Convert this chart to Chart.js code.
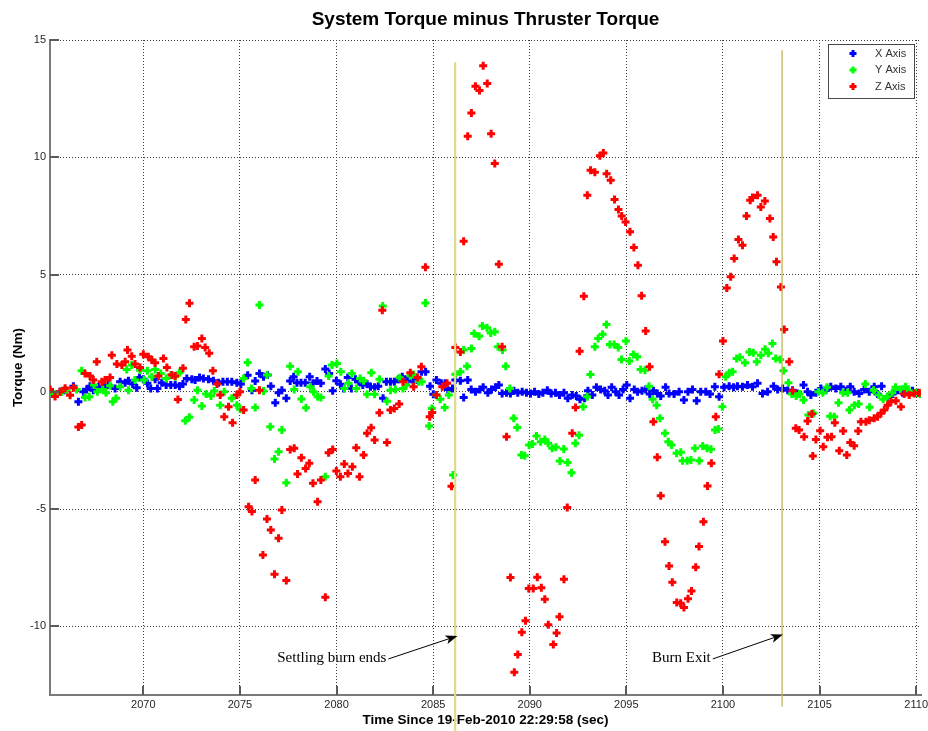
<!DOCTYPE html>
<html>
<head>
<meta charset="utf-8">
<title>System Torque minus Thruster Torque</title>
<script src="https://cdn.jsdelivr.net/npm/chart.js@4.4.1/dist/chart.umd.min.js"></script>
<style>
  html, body { margin: 0; padding: 0; background: #fff; }
  #wrap { width: 928px; height: 731px; }
</style>
</head>
<body>
<div id="wrap"><canvas id="torqueChart" width="928" height="731"></canvas></div>
<script>
// [time (s), torque (Nm)] samples for each body axis
const xAxisSamples = [
  [2065.17, 0.07], [2065.43, -0.1], [2065.69, 0], [2065.95, 0.07], [2066.38, 0.24], [2066.64, -0.43],
  [2066.9, 0], [2067.07, 0.1], [2067.24, 0.24], [2067.41, 0.07], [2067.67, 0.21], [2067.93, 0.19],
  [2068.19, 0.29], [2068.54, 0.14], [2068.8, 0.43], [2069.06, 0.38], [2069.23, 0.47], [2069.45, 0.33],
  [2069.66, 0.17], [2069.8, 0.61], [2070.0, 0.53], [2070.21, 0.36], [2070.38, 0.14], [2070.61, 0.53],
  [2070.73, 0.14], [2070.95, 0.38], [2071.18, 0.29], [2071.42, 0.29], [2071.65, 0.29], [2071.87, 0.24],
  [2072.05, 0.33], [2072.25, 0.57], [2072.51, 0.53], [2072.68, 0.5], [2072.91, 0.61], [2073.11, 0.57],
  [2073.37, 0.53], [2073.63, 0.47], [2073.89, 0.38], [2074.12, 0.43], [2074.35, 0.43], [2074.58, 0.43],
  [2074.84, 0.38], [2075.05, 0.33], [2075.4, 0.7], [2075.62, 0.07], [2075.79, 0.46], [2076.01, 0.78],
  [2076.22, 0.64], [2076.43, 0.71], [2076.6, 0.24], [2076.83, -0.47], [2077.0, -0.04], [2077.17, 0.07],
  [2077.4, -0.28], [2077.6, 0.46], [2077.78, 0.64], [2077.95, 0.38], [2078.16, 0.38], [2078.38, 0.38],
  [2078.61, 0.64], [2078.78, 0.36], [2078.99, 0.46], [2079.19, 0.36], [2079.42, 0.97], [2079.62, 0.78],
  [2079.8, 0.04], [2079.99, 0.47], [2080.2, 0.32], [2080.37, 0.14], [2080.58, 0.61], [2080.77, 0.14],
  [2080.98, 0.53], [2081.15, 0.43], [2081.36, 0.29], [2081.58, 0.33], [2081.76, 0.21], [2081.97, 0.19],
  [2082.16, 0.24], [2082.41, -0.28], [2082.58, 0.43], [2082.79, 0.43], [2082.99, 0.43], [2083.22, 0.53],
  [2083.4, 0.64], [2083.66, 0.5], [2083.97, 0.43], [2084.18, 0.5], [2084.4, 0.85], [2084.61, 0.85],
  [2084.84, 0.24], [2085.01, -0.11], [2085.17, 0.5], [2085.42, 0.36], [2085.62, 0.36], [2085.76, 0.1],
  [2086.0, 0.14], [2086.15, 0.5], [2086.41, 0.47], [2086.58, -0.24], [2086.79, 0.5], [2086.97, 0.1],
  [2087.19, 0], [2087.42, 0.1], [2087.59, 0.19], [2087.83, -0.04], [2088.02, 0.1], [2088.23, 0.19],
  [2088.4, 0.29], [2088.57, -0.07], [2088.8, -0.04], [2089.0, -0.07], [2089.18, 0.04], [2089.38, -0.04],
  [2089.61, 0], [2089.83, -0.04], [2090.04, -0.07], [2090.25, 0], [2090.47, -0.1], [2090.68, -0.04],
  [2090.91, 0.07], [2091.11, -0.07], [2091.33, -0.04], [2091.54, -0.14], [2091.77, -0.04], [2091.97, -0.28],
  [2092.2, -0.14], [2092.41, -0.18], [2092.6, -0.32], [2092.84, -0.28], [2093.01, 0.04], [2093.24, -0.14],
  [2093.45, 0.19], [2093.67, 0.1], [2093.88, 0.04], [2094.05, -0.14], [2094.24, 0.19], [2094.45, 0],
  [2094.62, -0.14], [2094.83, 0.1], [2095.02, 0.29], [2095.19, -0.28], [2095.41, 0.1], [2095.58, 0],
  [2095.81, 0.04], [2096.0, 0.1], [2096.21, -0.1], [2096.4, 0.04], [2096.6, -0.07], [2096.78, -0.18],
  [2097.03, 0.19], [2097.21, -0.07], [2097.47, -0.1], [2097.73, 0], [2097.98, -0.35], [2098.19, 0],
  [2098.42, 0.1], [2098.64, -0.38], [2098.85, 0], [2099.11, 0], [2099.33, -0.1], [2099.58, 0.21],
  [2099.8, -0.21], [2100.06, 0.19], [2100.32, 0.24], [2100.55, 0.19], [2100.75, 0.24], [2101.01, 0.21],
  [2101.27, 0.29], [2101.53, 0.21], [2101.79, 0.36], [2102.05, -0.07], [2102.31, 0], [2102.62, 0.24],
  [2102.83, 0.1], [2103.09, 0.14], [2103.35, 0.07], [2103.6, 0.07], [2103.86, -0.07], [2104.17, 0.29],
  [2104.38, 0], [2104.55, -0.14], [2104.81, -0.04], [2105.07, 0.14], [2105.33, 0.07], [2105.58, 0.21],
  [2105.84, 0.14], [2106.1, 0.21], [2106.36, 0.04], [2106.59, 0.21], [2106.79, 0], [2107.05, -0.07],
  [2107.31, 0.1], [2107.57, 0], [2107.83, 0.21], [2108.0, -0.1], [2108.21, 0.24], [2108.52, -0.21],
  [2108.78, -0.1], [2109.04, 0.07], [2109.29, -0.04], [2109.55, 0], [2109.81, 0.04], [2110.06, -0.04]
];

const yAxisSamples = [
  [2065.17, 0], [2065.43, -0.1], [2065.77, 0], [2066.03, 0.07], [2066.55, 0.1], [2066.81, 0.9],
  [2066.98, -0.24], [2067.2, -0.21], [2067.45, 0.29], [2067.62, 0], [2067.9, 0.1], [2068.07, -0.04],
  [2068.28, 0.26], [2068.42, -0.43], [2068.59, -0.28], [2068.8, 0.21], [2069.14, 0.95], [2069.23, 0.07],
  [2069.4, 1.14], [2069.57, 0.5], [2069.83, 0.92], [2070.04, 0.5], [2070.21, 0.9], [2070.44, 0.64],
  [2070.61, 0.95], [2070.9, 0.78], [2071.18, 0.57], [2071.42, 0.71], [2071.65, 0.64], [2071.87, 0.81],
  [2072.17, -1.24], [2072.38, -1.09], [2072.63, -0.35], [2072.8, 0.07], [2073.03, -0.61], [2073.25, -0.1],
  [2073.5, -0.18], [2073.67, 0.03], [2073.98, -0.57], [2074.19, 0], [2074.58, -0.28], [2074.84, -0.57],
  [2075.01, -0.75], [2075.19, 0.57], [2075.4, 1.25], [2075.59, 0.14], [2075.79, -0.67], [2076.01, 3.7],
  [2076.22, 0.03], [2076.4, 0.71], [2076.57, -1.49], [2076.79, -2.87], [2077.0, -2.56], [2077.17, -1.63],
  [2077.4, -3.88], [2077.6, 1.09], [2077.81, 0.1], [2078.0, 0.85], [2078.18, -0.31], [2078.42, -0.68],
  [2078.64, 0.21], [2078.81, 0], [2079.02, -0.21], [2079.19, -0.24], [2079.42, -3.62], [2079.59, 0.67],
  [2079.76, 1.14], [2080.02, 1.21], [2080.22, 0.85], [2080.41, 0.14], [2080.62, 0.36], [2080.79, 0.78],
  [2081.02, 0.14], [2081.22, 0.57], [2081.4, 0.47], [2081.58, -0.11], [2081.8, 0.81], [2081.97, -0.11],
  [2082.22, 0.53], [2082.39, 3.66], [2082.61, -0.4], [2082.79, 0.07], [2083.04, 0.1], [2083.27, 0.6],
  [2083.44, 0.14], [2083.61, 0.29], [2083.82, 0.68], [2083.99, 0.74], [2084.25, 0.43], [2084.42, 0.43],
  [2084.6, 3.79], [2084.79, -1.46], [2084.93, -0.71], [2085.17, -0.14], [2085.37, -0.32], [2085.6, -0.67],
  [2085.81, -0.14], [2086.03, -3.55], [2086.15, 0.75], [2086.41, 0.85], [2086.58, 1.78], [2086.75, 1.09],
  [2086.98, 1.85], [2087.12, 2.49], [2087.38, 2.37], [2087.55, 2.8], [2087.79, 2.73], [2087.98, 2.51],
  [2088.19, 2.56], [2088.36, 1.92], [2088.59, 1.78], [2088.76, 1.09], [2088.97, 0.14], [2089.17, -1.13],
  [2089.35, -1.52], [2089.57, -2.7], [2089.74, -2.73], [2089.97, -2.27], [2090.14, -2.23], [2090.35, -1.89],
  [2090.57, -2.13], [2090.78, -2.03], [2090.95, -2.2], [2091.16, -2.41], [2091.35, -2.37], [2091.56, -2.95],
  [2091.76, -2.44], [2091.96, -3.02], [2092.16, -3.45], [2092.36, -2.2], [2092.55, -1.85], [2092.76, -0.64],
  [2092.97, -0.21], [2093.14, 0.74], [2093.37, 1.92], [2093.54, 2.27], [2093.77, 2.45], [2093.97, 2.87],
  [2094.15, 2.02], [2094.37, 2.02], [2094.58, 1.89], [2094.75, 1.38], [2094.98, 2.16], [2095.15, 1.31],
  [2095.36, 1.59], [2095.56, 1.49], [2095.74, 0.95], [2095.96, 0.92], [2096.17, 0.24], [2096.36, -0.32],
  [2096.57, -0.57], [2096.74, -1.13], [2097.0, -1.77], [2097.17, -2.13], [2097.34, -2.27], [2097.6, -2.62],
  [2097.82, -2.58], [2097.91, -2.94], [2098.15, -2.94], [2098.34, -2.91], [2098.55, -2.41], [2098.77, -2.94],
  [2098.95, -2.31], [2099.18, -2.41], [2099.38, -2.45], [2099.59, -1.63], [2099.76, -1.59], [2099.97, -0.64],
  [2100.14, 0.64], [2100.33, 0.81], [2100.5, 0.85], [2100.71, 1.42], [2100.88, 1.47], [2101.14, 1.24],
  [2101.37, 1.7], [2101.57, 1.66], [2101.75, 1.28], [2101.96, 1.56], [2102.18, 1.81], [2102.35, 1.64],
  [2102.56, 2.06], [2102.73, 1.42], [2102.96, 1.38], [2103.13, 0.9], [2103.39, 0.38], [2103.56, -0.1],
  [2103.79, -0.18], [2103.96, -0.1], [2104.17, -0.35], [2104.42, -0.99], [2104.68, -0.92], [2104.94, 0],
  [2105.17, -0.04], [2105.38, 0.19], [2105.55, -1.04], [2105.76, -1.07], [2105.98, -0.47], [2106.21, -0.04],
  [2106.45, -0.04], [2106.55, -0.78], [2106.8, -0.57], [2107.02, -0.52], [2107.37, 0.33], [2107.59, -0.66],
  [2107.8, 0.07], [2108.06, -0.14], [2108.29, -0.32], [2108.5, -0.21], [2108.76, -0.04], [2108.93, 0.19],
  [2109.19, 0.1], [2109.45, 0.21], [2109.62, 0.04], [2109.97, -0.04], [2110.2, -0.1]
];

const zAxisSamples = [
  [2065.17, 0.1], [2065.43, -0.2], [2065.69, 0], [2065.95, 0.15], [2066.21, -0.15], [2066.38, 0.17],
  [2066.64, -1.5], [2066.81, -1.42], [2066.98, 0.78], [2067.24, 0.67], [2067.41, 0.5], [2067.59, 1.28],
  [2067.85, 0.43], [2068.02, 0.5], [2068.28, 0.61], [2068.37, 1.56], [2068.63, 1.18], [2068.89, 1.14],
  [2069.06, 1.28], [2069.18, 1.78], [2069.4, 1.52], [2069.57, 1.18], [2069.83, 1.04], [2070.0, 1.6],
  [2070.26, 1.49], [2070.44, 1.35], [2070.61, 1.24], [2070.78, 0.67], [2071.04, 1.42], [2071.22, 1.04],
  [2071.48, 0.71], [2071.65, 0.67], [2071.79, -0.33], [2072.05, 1.0], [2072.2, 3.08], [2072.39, 3.77],
  [2072.63, 1.92], [2072.8, 1.95], [2073.03, 2.27], [2073.2, 1.89], [2073.41, 1.64], [2073.6, 0.9],
  [2073.81, 0.33], [2073.98, -0.14], [2074.19, -1.06], [2074.41, -0.64], [2074.62, -1.32], [2074.84, -0.14],
  [2075.0, 0], [2075.19, -0.78], [2075.45, -4.9], [2075.62, -5.11], [2075.79, -3.76], [2076.01, 0.07],
  [2076.19, -6.96], [2076.4, -5.42], [2076.6, -5.89], [2076.79, -7.78], [2077.0, -6.25], [2077.17, -5.04],
  [2077.4, -8.05], [2077.6, -2.46], [2077.81, -2.41], [2077.98, -3.51], [2078.18, -2.81], [2078.4, -3.27],
  [2078.59, -3.05], [2078.78, -3.9], [2079.02, -4.69], [2079.19, -3.76], [2079.42, -8.76], [2079.59, -2.6],
  [2079.8, -2.46], [2079.99, -3.38], [2080.2, -3.62], [2080.4, -3.08], [2080.59, -3.48], [2080.82, -3.2],
  [2081.02, -2.39], [2081.19, -3.62], [2081.4, -2.7], [2081.58, -1.77], [2081.79, -1.53], [2081.97, -2.06],
  [2082.22, -0.89], [2082.37, 3.48], [2082.61, -2.16], [2082.79, -0.78], [2082.99, -0.71], [2083.24, -0.52],
  [2083.44, 0.43], [2083.82, 0.81], [2083.99, 0.21], [2084.2, 0.61], [2084.39, 1.07], [2084.6, 5.31],
  [2084.82, -1.07], [2084.95, -0.88], [2085.17, -0.14], [2085.47, 0.21], [2085.72, 0.36], [2085.95, -4.03],
  [2086.15, 1.89], [2086.41, 1.7], [2086.58, 6.42], [2086.79, 10.9], [2086.98, 11.89], [2087.19, 13.03],
  [2087.4, 12.85], [2087.59, 13.9], [2087.8, 13.14], [2088.0, 11.0], [2088.19, 9.73], [2088.4, 5.44],
  [2088.57, 1.92], [2088.8, -1.92], [2089.0, -7.92], [2089.2, -11.96], [2089.38, -11.2], [2089.59, -10.25],
  [2089.78, -9.76], [2089.95, -8.39], [2090.18, -8.39], [2090.39, -7.91], [2090.6, -8.36], [2090.78, -8.85],
  [2090.96, -9.93], [2091.22, -10.78], [2091.39, -10.29], [2091.54, -9.59], [2091.77, -7.99], [2091.94, -4.93],
  [2092.2, -1.77], [2092.37, -0.67], [2092.58, 1.73], [2092.8, 4.07], [2092.98, 8.38], [2093.15, 9.45],
  [2093.37, 9.36], [2093.63, 10.06], [2093.81, 10.18], [2093.98, 9.3], [2094.19, 9.02], [2094.39, 8.2],
  [2094.59, 7.77], [2094.76, 7.5], [2094.96, 7.24], [2095.19, 6.82], [2095.39, 6.15], [2095.6, 5.4],
  [2095.79, 4.09], [2096.0, 2.59], [2096.2, 1.07], [2096.4, -1.28], [2096.6, -2.79], [2096.78, -4.43],
  [2097.0, -6.39], [2097.21, -7.43], [2097.38, -8.12], [2097.61, -8.99], [2097.81, -9.02], [2097.98, -9.2],
  [2098.19, -8.83], [2098.37, -8.49], [2098.59, -7.48], [2098.76, -6.6], [2098.99, -5.54], [2099.2, -4.02],
  [2099.4, -3.05], [2099.63, -1.07], [2099.8, 0.75], [2100.0, 2.17], [2100.2, 4.43], [2100.4, 4.9],
  [2100.58, 5.68], [2100.8, 6.49], [2101.01, 6.25], [2101.22, 7.5], [2101.41, 8.17], [2101.53, 8.28],
  [2101.79, 8.38], [2101.96, 7.88], [2102.17, 8.13], [2102.43, 7.39], [2102.6, 6.6], [2102.77, 5.54],
  [2103.0, 4.47], [2103.17, 2.66], [2103.43, 1.28], [2103.6, 0.04], [2103.77, -1.56], [2103.94, -1.63],
  [2104.2, -1.92], [2104.38, -1.25], [2104.6, -0.95], [2104.65, -2.74], [2104.81, -2.03], [2105.03, -1.66],
  [2105.19, -2.34], [2105.41, -1.94], [2105.62, -1.92], [2105.79, -1.32], [2106.02, -2.51], [2106.22, -1.67],
  [2106.41, -2.7], [2106.59, -2.16], [2106.79, -2.3], [2107.0, -1.67], [2107.14, -1.28], [2107.4, -1.28],
  [2107.57, -1.21], [2107.83, -1.13], [2108.0, -1.07], [2108.18, -0.92], [2108.35, -0.78], [2108.52, -0.57],
  [2108.69, -0.43], [2108.95, -0.38], [2109.21, -0.64], [2109.38, -0.1], [2109.64, -0.14], [2109.9, -0.07],
  [2110.16, -0.04]
];

const seriesNames = ['X Axis', 'Y Axis', 'Z Axis'];

// burn events: time, top and bottom of the marker line (Nm)
const eventTimes = [2086.14, 2103.06];
const eventTops = [14.05, 14.56];
const eventBottoms = [-14.46, -13.43];

// callouts: label, where the text ends, where the arrow points
const calloutLabels = ['Settling burn ends', 'Burn Exit'];
const calloutText = [[2082.58, -11.35], [2099.37, -11.35]];
const calloutTips = [[2086.26, -10.41], [2103.1, -10.35]];

const xTicks = [2070, 2075, 2080, 2085, 2090, 2095, 2100, 2105, 2110];
const yTicks = [-10, -5, 0, 5, 10, 15];
const xRange = [2065.17, 2110.25];
const yRange = [-12.93, 15];

const sansFont = 'Arial, "Liberation Sans", Helvetica, sans-serif';
const serifFont = '"Times New Roman", "Liberation Serif", serif';
const markerColors = ['#0000ff', '#00ff00', '#ff0000'];

const toPoints = (pairs) => pairs.map(([t, v]) => ({ x: t, y: v }));

function markerSet(i, pairs) {
  return {
    label: seriesNames[i],
    data: toPoints(pairs),
    pointStyle: 'cross',
    pointRadius: 4,
    pointBorderWidth: 3,
    pointBorderColor: markerColors[i],
    pointBackgroundColor: markerColors[i],
    borderColor: markerColors[i],
    backgroundColor: markerColors[i],
    order: 3 - i
  };
}

const eventSets = eventTimes.map((t, i) => ({
  label: 'event' + i,
  data: [{ x: t, y: eventTops[i] }, { x: t, y: eventBottoms[i] }],
  showLine: true,
  pointRadius: 0,
  borderColor: i === 0 ? '#dcdc8a' : '#c4b656',
  borderWidth: i === 0 ? 2.2 : 1.3,
  clip: false,
  order: 0
}));

// inward tick marks, boxed legend and arrow callouts
const decorations = {
  id: 'decorations',
  afterDraw(chart) {
    const { ctx, chartArea: a, scales: { x, y } } = chart;
    ctx.save();
    ctx.setLineDash([]);

    ctx.strokeStyle = '#5a5a5a';
    ctx.lineWidth = 2;
    ctx.beginPath();
    x.ticks.forEach(tk => {
      const px = Math.round(x.getPixelForValue(tk.value));
      ctx.moveTo(px, a.bottom);
      ctx.lineTo(px, a.bottom - 9);
    });
    y.ticks.forEach(tk => {
      const py = Math.round(y.getPixelForValue(tk.value));
      ctx.moveTo(a.left, py);
      ctx.lineTo(a.left + 9, py);
    });
    ctx.stroke();

    // legend
    const lw = 86, lh = 54;
    const lx = a.right - 7 - lw, ly = a.top + 3.5;
    ctx.fillStyle = '#fff';
    ctx.fillRect(lx, ly, lw, lh);
    ctx.strokeStyle = '#4a4a4a';
    ctx.lineWidth = 1;
    ctx.strokeRect(Math.round(lx) + 0.5, Math.round(ly) + 0.5, lw, lh);
    ctx.font = '11px ' + sansFont;
    ctx.textBaseline = 'middle';
    ctx.textAlign = 'left';
    seriesNames.forEach((name, i) => {
      const ry = ly + 10 + i * 16.5;
      ctx.strokeStyle = markerColors[i];
      ctx.lineWidth = 3;
      ctx.beginPath();
      ctx.moveTo(lx + 21.5, ry); ctx.lineTo(lx + 28.5, ry);
      ctx.moveTo(lx + 25, ry - 3.5); ctx.lineTo(lx + 25, ry + 3.5);
      ctx.stroke();
      ctx.fillStyle = '#333';
      ctx.fillText(name, lx + 47, ry);
    });

    // callouts
    ctx.font = '15px ' + serifFont;
    ctx.textAlign = 'right';
    ctx.textBaseline = 'middle';
    ctx.fillStyle = '#000';
    ctx.strokeStyle = '#000';
    calloutLabels.forEach((label, i) => {
      const tx = x.getPixelForValue(calloutText[i][0]);
      const ty = y.getPixelForValue(calloutText[i][1]);
      ctx.fillText(label, tx, ty);
      const sx = tx + 2, sy = ty + 1;
      const ex = x.getPixelForValue(calloutTips[i][0]);
      const ey = y.getPixelForValue(calloutTips[i][1]);
      const ang = Math.atan2(ey - sy, ex - sx);
      const len = 12, half = 4.5;
      const bx = ex - Math.cos(ang) * len, by = ey - Math.sin(ang) * len;
      ctx.lineWidth = 1;
      ctx.beginPath();
      ctx.moveTo(sx, sy);
      ctx.lineTo(bx + Math.cos(ang) * 3, by + Math.sin(ang) * 3);
      ctx.stroke();
      ctx.beginPath();
      ctx.moveTo(ex, ey);
      ctx.lineTo(bx - Math.sin(ang) * half, by + Math.cos(ang) * half);
      ctx.lineTo(bx + Math.cos(ang) * 3, by + Math.sin(ang) * 3);
      ctx.lineTo(bx + Math.sin(ang) * half, by - Math.cos(ang) * half);
      ctx.closePath();
      ctx.fill();
    });

    ctx.restore();
  }
};

// dotted grid lines, solid grey axis lines
const gridStyle = { color: '#3d3d3d', lineWidth: 1, drawTicks: false };
const axisBorder = { display: true, color: '#7a7a7a', width: 2, dash: [1, 2] };

new Chart(document.getElementById('torqueChart'), {
  type: 'scatter',
  data: {
    datasets: [
      ...eventSets,
      markerSet(0, xAxisSamples),
      markerSet(1, yAxisSamples),
      markerSet(2, zAxisSamples)
    ]
  },
  options: {
    responsive: false,
    animation: false,
    layout: { padding: { left: 0, right: 0, top: 0, bottom: 0 } },
    plugins: {
      legend: { display: false },
      tooltip: { enabled: false },
      title: {
        display: true,
        fullSize: false,
        text: 'System Torque minus Thruster Torque',
        color: '#000',
        font: { family: sansFont, size: 19, weight: 'bold' },
        padding: { top: 8.6, bottom: 8.6 }
      }
    },
    scales: {
      x: {
        type: 'linear',
        min: xRange[0],
        max: xRange[1],
        afterBuildTicks: (scale) => { scale.ticks = xTicks.map(v => ({ value: v })); },
        afterFit: (scale) => {
          scale.height = 36;
          scale.paddingLeft = 0;
          scale.paddingRight = 7;
        },
        grid: gridStyle,
        border: axisBorder,
        ticks: {
          autoSkip: false,
          maxRotation: 0,
          padding: 3,
          color: '#262626',
          font: { family: sansFont, size: 11 },
          callback: (v) => String(v)
        },
        title: {
          display: true,
          text: 'Time Since 19-Feb-2010 22:29:58 (sec)',
          color: '#000',
          font: { family: sansFont, size: 13.5, weight: 'bold' },
          padding: { top: 0, bottom: 3 }
        }
      },
      y: {
        type: 'linear',
        min: yRange[0],
        max: yRange[1],
        afterBuildTicks: (scale) => { scale.ticks = yTicks.map(v => ({ value: v })); },
        afterFit: (scale) => { scale.width = 50; },
        grid: gridStyle,
        border: axisBorder,
        ticks: {
          padding: 4,
          color: '#262626',
          font: { family: sansFont, size: 11 },
          callback: (v) => String(v)
        },
        title: {
          display: true,
          text: 'Torque (Nm)',
          color: '#000',
          font: { family: sansFont, size: 13.5, weight: 'bold' },
          padding: { top: 10, bottom: 0 }
        }
      }
    }
  },
  plugins: [decorations]
});
</script>
</body>
</html>
